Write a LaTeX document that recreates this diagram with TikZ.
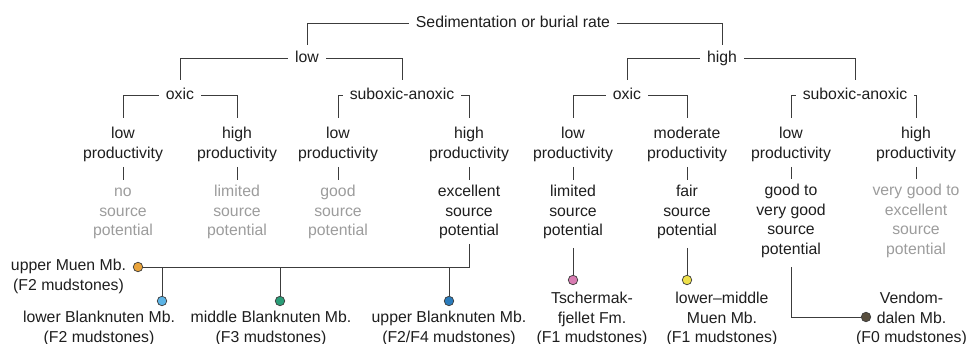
\documentclass[tikz,border=0pt]{standalone}
\usepackage{fontspec}
\setmainfont{Liberation Sans}
\definecolor{txt}{HTML}{1E1E1E}
\definecolor{grey}{HTML}{9C9C9C}
\definecolor{ln}{HTML}{3C3C3C}
\definecolor{dotline}{HTML}{3A3A3A}
\definecolor{corange}{HTML}{E9A33B}
\definecolor{clblue}{HTML}{5CB4E6}
\definecolor{cgreen}{HTML}{2A9D77}
\definecolor{cblue}{HTML}{2A7BBB}
\definecolor{cpink}{HTML}{D87CB2}
\definecolor{cyellow}{HTML}{EEE04B}
\definecolor{cbrown}{HTML}{584E3E}
\newcommand{\sx}{\rule[-3.3pt]{0pt}{14.8pt}}
\begin{document}
\begin{tikzpicture}[x=1pt,y=-1pt,
  lbl/.style={font=\fontsize{15.8}{19.4}\selectfont, text=txt, align=center, inner xsep=7pt, inner ysep=5pt},
  gr/.style={lbl, text=grey},
  conn/.style={draw=ln, line width=0.9pt},
  dot/.style={circle, draw=dotline, line width=0.7pt, minimum size=9.5pt, inner sep=0pt}]
\useasboundingbox (0,0) rectangle (969,344);
% tree labels
\node[lbl] (root) at (513,23) {\sx Sedimentation or burial rate};
\node[lbl] (low) at (307,58) {\sx low};
\node[lbl] (high) at (722,58) {\sx high};
\node[lbl] (oxL) at (180,95) {\sx oxic};
\node[lbl] (subL) at (402,95) {\sx suboxic-anoxic};
\node[lbl] (oxH) at (627,95) {\sx oxic};
\node[lbl] (subH) at (855,95) {\sx suboxic-anoxic};
% productivity
\node[lbl] (p1) at (123,144.5) {\sx low\\\sx productivity};
\node[lbl] (p2) at (237,144.5) {\sx high\\\sx productivity};
\node[lbl] (p3) at (338,144.5) {\sx low\\\sx productivity};
\node[lbl] (p4) at (469,144.5) {\sx high\\\sx productivity};
\node[lbl] (p5) at (573,144.5) {\sx low\\\sx productivity};
\node[lbl] (p6) at (687,144.5) {\sx moderate\\\sx productivity};
\node[lbl] (p7) at (791,144.5) {\sx low\\\sx productivity};
\node[lbl] (p8) at (916,144.5) {\sx high\\\sx productivity};
% source potential
\node[gr] (q1) at (123,212) {\sx no\\\sx source\\\sx potential};
\node[gr] (q2) at (237,212) {\sx limited\\\sx source\\\sx potential};
\node[gr] (q3) at (338,212) {\sx good\\\sx source\\\sx potential};
\node[lbl] (q4) at (469,212) {\sx excellent\\\sx source\\\sx potential};
\node[lbl] (q5) at (573,212) {\sx limited\\\sx source\\\sx potential};
\node[lbl] (q6) at (687,212) {\sx fair\\\sx source\\\sx potential};
\node[lbl] (q7) at (791,221) {\sx good to\\\sx very good\\\sx source\\\sx potential};
\node[gr] (q8) at (916,221) {\sx very good to\\\sx excellent\\\sx source\\\sx potential};
% tree connectors
\draw[conn] (root.west) -| (low.north);
\draw[conn] (root.east) -| (high.north);
\draw[conn] (low.west) -| ([yshift=2.5pt]oxL.north);
\draw[conn] (low.east) -| ([yshift=2.5pt]subL.north);
\draw[conn] (high.west) -| ([yshift=2.5pt]oxH.north);
\draw[conn] (high.east) -| ([yshift=2.5pt]subH.north);
\draw[conn] (oxL.west) -| ([yshift=4.5pt]p1.north);
\draw[conn] (oxL.east) -| ([yshift=4.5pt]p2.north);
\draw[conn] (subL.west) -| ([yshift=4.5pt]p3.north);
\draw[conn] (subL.east) -| ([yshift=4.5pt]p4.north);
\draw[conn] (oxH.west) -| ([yshift=4.5pt]p5.north);
\draw[conn] (oxH.east) -| ([yshift=4.5pt]p6.north);
\draw[conn] (subH.west) -| ([yshift=4.5pt]p7.north);
\draw[conn] (subH.east) -| ([yshift=4.5pt]p8.north);
\foreach \i in {1,...,8} {\draw[conn] (p\i.south) -- (q\i.north);}
% bottom: formations
\node[dot, fill=corange] (dMuen) at (138,267) {};
\node[dot, fill=clblue] (dLB) at (162,301) {};
\node[dot, fill=cgreen] (dMB) at (280,301) {};
\node[dot, fill=cblue] (dUB) at (449,301) {};
\node[dot, fill=cpink] (dT) at (573,280) {};
\node[dot, fill=cyellow] (dLM) at (687,280) {};
\node[dot, fill=cbrown] (dV) at (866,317) {};
\node[lbl] (tMuen) at (68.5,276.5) {\sx upper Muen Mb.\\\sx (F2 mudstones)};
\node[lbl] (tLB) at (99,328.5) {\sx lower Blanknuten Mb.\\\sx (F2 mudstones)};
\node[lbl] (tMB) at (271,328.5) {\sx middle Blanknuten Mb.\\\sx (F3 mudstones)};
\node[lbl] (tUB) at (449,328.5) {\sx upper Blanknuten Mb.\\\sx (F2/F4 mudstones)};
\node[lbl] (tT) at (592,319) {\sx Tschermak-\\\sx fjellet Fm.\\\sx (F1 mudstones)};
\node[lbl] (tLM) at (722,319) {\sx lower--middle\\\sx Muen Mb.\\\sx (F1 mudstones)};
\node[lbl] (tV) at (911.5,319) {\sx Vendom-\\\sx dalen Mb.\\\sx (F0 mudstones)};
\draw[conn] (q4.south) |- (dMuen.east);
\draw[conn] (dLB.north) -- (dLB.north |- dMuen.east);
\draw[conn] (dMB.north) -- (dMB.north |- dMuen.east);
\draw[conn] (dUB.north) -- (dUB.north |- dMuen.east);
\draw[conn] ([yshift=-4pt]q5.south) -- (dT.north);
\draw[conn] ([yshift=-4pt]q6.south) -- (dLM.north);
\draw[conn] ([yshift=-4.5pt]q7.south) |- (dV.west);
\end{tikzpicture}
\end{document}
